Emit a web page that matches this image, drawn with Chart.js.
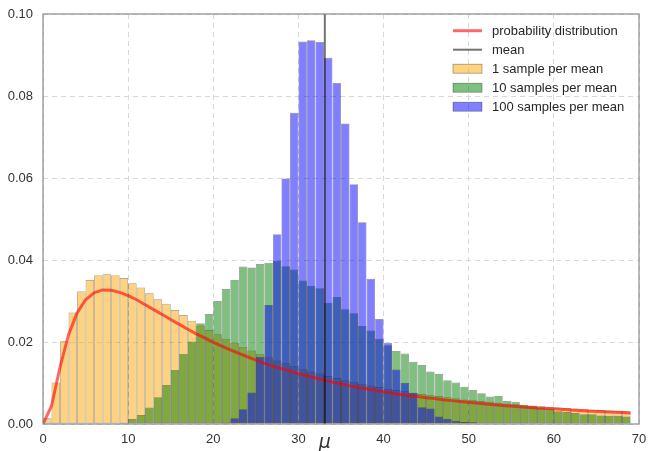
<!DOCTYPE html>
<html>
<head>
<meta charset="utf-8">
<script src="https://cdn.jsdelivr.net/npm/chart.js@4/dist/chart.umd.min.js"></script>
<style>
  html, body { margin: 0; padding: 0; background: #fff; }
  #wrap { width: 649px; height: 451px; }
</style>
</head>
<body>
<div id="wrap"><canvas id="chart" width="649" height="451"></canvas></div>
<script>
// ─── Data ─────────────────────────────────────────────────────────────────────
// histogram bins: left edges, width 1
const BIN_LEFT = [
   0,  1,  2,  3,  4,  5,  6,  7,  8,  9, 10, 11, 12, 13, 14, 15, 16, 17, 18, 19,
  20, 21, 22, 23, 24, 25, 26, 27, 28, 29, 30, 31, 32, 33, 34, 35, 36, 37, 38, 39,
  40, 41, 42, 43, 44, 45, 46, 47, 48, 49, 50, 51, 52, 53, 54, 55, 56, 57, 58, 59,
  60, 61, 62, 63, 64, 65, 66, 67, 68
];
const BIN_WIDTH = 1;

const ONE_SAMPLE = [
  0.0014, 0.0101, 0.0202, 0.0272, 0.0324, 0.0351, 0.0363, 0.0365, 0.0363, 0.0356,
  0.0343, 0.0333, 0.0319, 0.0304, 0.0293, 0.0278, 0.0266, 0.0252, 0.0240, 0.0229,
  0.0219, 0.0208, 0.0198, 0.0188, 0.0179, 0.0171, 0.0163, 0.0155, 0.0148, 0.0141,
  0.0135, 0.0128, 0.0123, 0.0117, 0.0112, 0.0107, 0.0103, 0.0098, 0.0094, 0.0090,
  0.0086, 0.0083, 0.0080, 0.0076, 0.0073, 0.0070, 0.0068, 0.0065, 0.0063, 0.0060,
  0.0058, 0.0056, 0.0054, 0.0052, 0.0050, 0.0048, 0.0047, 0.0045, 0.0043, 0.0042,
  0.0040, 0.0039, 0.0038, 0.0037, 0.0035, 0.0034, 0.0033, 0.0032, 0.0031
];

const TEN_SAMPLES = [
  0, 0, 0, 0, 0, 0, 0, 0, 0, 0.0003,
  0.0012, 0.0022, 0.0040, 0.0065, 0.0095, 0.0132, 0.0171, 0.0201, 0.0246, 0.0268,
  0.0300, 0.0329, 0.0351, 0.0384, 0.0382, 0.0390, 0.0393, 0.0398, 0.0385, 0.0377,
  0.0350, 0.0337, 0.0331, 0.0296, 0.0310, 0.0280, 0.0270, 0.0239, 0.0228, 0.0208,
  0.0192, 0.0178, 0.0172, 0.0152, 0.0144, 0.0128, 0.0122, 0.0107, 0.0101, 0.0091,
  0.0083, 0.0075, 0.0067, 0.0068, 0.0056, 0.0054, 0.0046, 0.0043, 0.0040, 0.0038,
  0.0031, 0.0029, 0.0027, 0.0024, 0.0024, 0.0021, 0.0020, 0.0020, 0.0018
];

const HUNDRED_SAMPLES = [
  0, 0, 0, 0, 0, 0, 0, 0, 0, 0,
  0, 0, 0, 0, 0, 0, 0, 0, 0, 0,
  0, 0.0003, 0.0014, 0.0036, 0.0077, 0.0164, 0.0290, 0.0463, 0.0599, 0.0759,
  0.0933, 0.0936, 0.0932, 0.0893, 0.0832, 0.0733, 0.0585, 0.0492, 0.0354, 0.0256,
  0.0198, 0.0133, 0.0100, 0.0076, 0.0041, 0.0038, 0.0018, 0.0012, 0.0008, 0.0005,
  0.0004, 0.0002, 0.0001, 0.0001, 0, 0, 0, 0, 0, 0,
  0, 0, 0, 0, 0, 0, 0, 0, 0
];

// probability distribution curve, read at these x positions
const PDF_X = [
   0,  1,  2,  3,  4,  5,  6,  7,  8,  9, 10, 11, 12, 13, 14, 15, 16, 17, 18, 19,
  20, 21, 22, 23, 24, 25, 26, 27, 28, 29, 30, 31, 32, 33, 34, 35, 36, 37, 38, 39,
  40, 41, 42, 43, 44, 45, 46, 47, 48, 49, 50, 52, 54, 56, 58, 60, 62, 64, 66, 68, 69
];
const PDF_Y = [
  0.0000, 0.0044, 0.0139, 0.0218, 0.0271, 0.0303, 0.0320, 0.0327, 0.0326, 0.0321,
  0.0313, 0.0303, 0.0291, 0.0279, 0.0267, 0.0255, 0.0243, 0.0231, 0.0220, 0.0210,
  0.0199, 0.0190, 0.0181, 0.0172, 0.0164, 0.0156, 0.0148, 0.0141, 0.0135, 0.0129,
  0.0123, 0.0117, 0.0112, 0.0107, 0.0102, 0.0098, 0.0093, 0.0089, 0.0086, 0.0082,
  0.0079, 0.0075, 0.0072, 0.0069, 0.0067, 0.0064, 0.0062, 0.0059, 0.0057, 0.0055,
  0.0053, 0.0049, 0.0045, 0.0042, 0.0039, 0.0037, 0.0034, 0.0032, 0.0030, 0.0028, 0.0027
];

const MEAN = 33.1;
const X_TICKS = [0, 10, 20, 30, MEAN, 40, 50, 60, 70];
const Y_MAX = 0.10;

// ─── Helpers ──────────────────────────────────────────────────────────────────
const TICK_FONT = { family: "'Liberation Sans', Arial, sans-serif", size: 13 };
const MU_FONT   = { family: "'DejaVu Sans', sans-serif", size: 19, style: "italic" };

function histData(values) {
  // skip empty bins, bars are centred in their bin
  return values
    .map((v, i) => ({ x: BIN_LEFT[i] + BIN_WIDTH / 2, y: v }))
    .filter(p => p.y > 0);
}

function barSet(label, values, fill, order, legendRank) {
  return {
    type: "bar",
    label,
    data: histData(values),
    backgroundColor: fill,
    borderColor: "rgba(0,0,0,0.42)",
    borderWidth: 0.7,
    borderSkipped: false,
    grouped: false,
    barPercentage: 1,
    categoryPercentage: 1,
    inflateAmount: 0,
    order,
    legendRank,
    legendKind: "patch"
  };
}

// ─── Plugins ──────────────────────────────────────────────────────────────────
const framePlugin = {
  id: "frame",
  afterDatasetsDraw(chart) {
    const { ctx, chartArea: a } = chart;
    ctx.save();
    ctx.strokeStyle = "#8c8c8c";
    ctx.lineWidth = 1.2;
    ctx.strokeRect(a.left, a.top, a.right - a.left, a.bottom - a.top);
    ctx.restore();
  }
};

const legendPlugin = {
  id: "innerLegend",
  afterDraw(chart) {
    const { ctx, chartArea: a } = chart;
    const items = chart.data.datasets.slice().sort((p, q) => p.legendRank - q.legendRank);
    const x0 = a.right - 186, handleW = 29, textX = a.right - 147;
    ctx.save();
    ctx.font = "13px 'Liberation Sans', Arial, sans-serif";
    ctx.textBaseline = "middle";
    items.forEach((ds, i) => {
      const y = a.top + 16.7 + i * 19;
      if (ds.legendKind === "line") {
        ctx.strokeStyle = ds.borderColor;
        ctx.lineWidth = ds.borderWidth;
        ctx.beginPath();
        ctx.moveTo(x0, y);
        ctx.lineTo(x0 + handleW, y);
        ctx.stroke();
      } else {
        ctx.fillStyle = ds.backgroundColor;
        ctx.fillRect(x0, y - 4.5, handleW, 9);
        ctx.strokeStyle = ds.borderColor;
        ctx.lineWidth = 0.7;
        ctx.strokeRect(x0, y - 4.5, handleW, 9);
      }
      ctx.fillStyle = "#262626";
      ctx.fillText(ds.label, textX, y + 0.5);
    });
    ctx.restore();
  }
};

// ─── Chart ────────────────────────────────────────────────────────────────────
new Chart(document.getElementById("chart"), {
  type: "bar",
  data: {
    datasets: [
      {
        type: "line",
        label: "mean",
        data: [{ x: MEAN, y: 0 }, { x: MEAN, y: Y_MAX }],
        borderColor: "rgba(0,0,0,0.55)",
        borderWidth: 2,
        pointRadius: 0,
        tension: 0,
        order: 0,
        legendRank: 1,
        legendKind: "line"
      },
      {
        type: "line",
        label: "probability distribution",
        data: PDF_X.map((x, i) => ({ x, y: PDF_Y[i] })),
        borderColor: "rgba(255,0,0,0.6)",
        borderWidth: 3,
        pointRadius: 0,
        tension: 0,
        order: 1,
        legendRank: 0,
        legendKind: "line"
      },
      barSet("100 samples per mean", HUNDRED_SAMPLES, "rgba(0,0,255,0.5)",   2, 4),
      barSet("10 samples per mean",  TEN_SAMPLES,     "rgba(0,128,0,0.5)",   3, 3),
      barSet("1 sample per mean",    ONE_SAMPLE,      "rgba(255,165,0,0.5)", 4, 2)
    ]
  },
  options: {
    responsive: false,
    animation: false,
    devicePixelRatio: 1,
    layout: { padding: 0 },
    plugins: {
      legend: { display: false },
      tooltip: { enabled: false }
    },
    scales: {
      x: {
        type: "linear",
        min: 0,
        max: 70,
        offset: false,
        afterBuildTicks: s => { s.ticks = X_TICKS.map(v => ({ value: v })); },
        afterFit: s => { s.height = 27; s.paddingRight = 10; s.paddingLeft = 0; },
        ticks: {
          autoSkip: false,
          maxRotation: 0,
          padding: 8,
          color: "#333",
          font: c => (c.tick && c.tick.value === MEAN ? MU_FONT : TICK_FONT),
          callback: v => (v === MEAN ? "\u03bc" : String(v))
        },
        grid: {
          offset: false,
          drawTicks: false,
          color: c => (c.tick && c.tick.value === MEAN ? "rgba(0,0,0,0)" : "#d8d8d8"),
          lineWidth: 1
        },
        border: { display: false, dash: [5, 4] }
      },
      y: {
        min: 0,
        max: Y_MAX,
        afterFit: s => { s.width = 43; s.paddingTop = 14; s.paddingBottom = 0; },
        ticks: {
          stepSize: 0.02,
          padding: 10,
          color: "#333",
          font: TICK_FONT,
          callback: v => v.toFixed(2)
        },
        grid: { drawTicks: false, color: "#d8d8d8", lineWidth: 1 },
        border: { display: false, dash: [5, 4] }
      }
    }
  },
  plugins: [framePlugin, legendPlugin]
});
</script>
</body>
</html>
